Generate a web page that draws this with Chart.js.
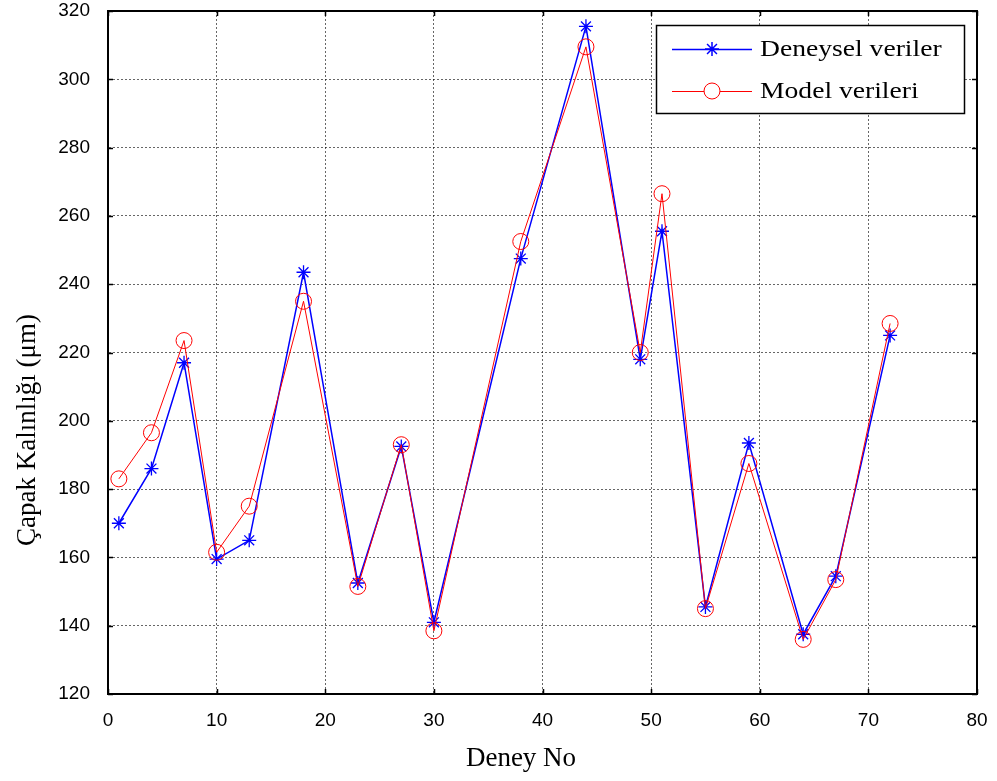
<!DOCTYPE html>
<html>
<head>
<meta charset="utf-8">
<script src="https://cdn.jsdelivr.net/npm/chart.js@4/dist/chart.umd.min.js"></script>
<style>
  html, body { margin: 0; padding: 0; background: #ffffff; }
  #wrap { width: 997px; height: 781px; }
</style>
</head>
<body>
<div id="wrap"><canvas id="c" width="997" height="781"></canvas></div>
<script>
// ---- data ----
const deneyNo = [1, 4, 7, 10, 13, 18, 23, 27, 30, 38, 44, 49, 51, 55, 59, 64, 67, 72];
const deneyselVeriler = [170, 186, 217, 159.5, 165, 243.5, 152.5, 192.5, 141, 247.5, 315.5, 218, 255.5, 145.5, 193.5, 137.5, 154.5, 225];
const modelVerileri   = [183, 196.5, 223.5, 161.5, 175, 235, 151.5, 193, 138.5, 252.5, 309.5, 220, 266.5, 145, 187.5, 136, 153.5, 228.5];
const seriesNames = ["Deneysel veriler", "Model verileri"];
const xTitle = "Deney No";
const yTitle = "Çapak Kalınlığı (μm)";
const xTickValues = [0, 10, 20, 30, 40, 50, 60, 70, 80];
const yTickValues = [120, 140, 160, 180, 200, 220, 240, 260, 280, 300, 320];

const toPoints = (ys) => deneyNo.map((x, i) => ({ x: x, y: ys[i] }));

// plugin: box, inward ticks, axis titles, legend
const matlabDecor = {
  id: 'matlabDecor',
  afterDraw(chart) {
    const ctx = chart.ctx;
    const a = chart.chartArea;
    const xs = chart.scales.x, ys = chart.scales.y;
    ctx.save();
    // inward ticks
    ctx.strokeStyle = '#000';
    ctx.lineWidth = 1.5;
    ctx.beginPath();
    xTickValues.forEach(v => {
      const px = Math.round(xs.getPixelForValue(v)) + 0.5;
      ctx.moveTo(px, a.bottom); ctx.lineTo(px, a.bottom - 5);
      ctx.moveTo(px, a.top); ctx.lineTo(px, a.top + 5);
    });
    yTickValues.forEach(v => {
      const py = Math.round(ys.getPixelForValue(v)) + 0.5;
      ctx.moveTo(a.left, py); ctx.lineTo(a.left + 5, py);
      ctx.moveTo(a.right, py); ctx.lineTo(a.right - 5, py);
    });
    ctx.stroke();
    // box
    ctx.lineWidth = 2;
    ctx.strokeRect(a.left, a.top, a.right - a.left, a.bottom - a.top);

    // axis titles
    ctx.fillStyle = '#000';
    ctx.font = '27px "Liberation Serif", "Times New Roman", serif';
    ctx.textAlign = 'center';
    ctx.textBaseline = 'middle';
    ctx.fillText(xTitle, 521, 759);
    ctx.save();
    ctx.translate(28, 430);
    ctx.rotate(-Math.PI / 2);
    ctx.fillText(yTitle, 0, 0);
    ctx.restore();

    // legend
    const bx = 656, by = 25, bw = 308, bh = 88;
    ctx.fillStyle = '#fff';
    ctx.fillRect(bx, by, bw, bh);
    ctx.strokeStyle = '#000';
    ctx.lineWidth = 1.5;
    ctx.strokeRect(bx + 0.5, by + 0.5, bw, bh);
    const rows = [49, 91];
    chart.data.datasets.forEach((ds, i) => {
      const y = rows[i];
      ctx.strokeStyle = ds.borderColor;
      ctx.lineWidth = ds.borderWidth;
      ctx.beginPath();
      ctx.moveTo(672, y + 0.5); ctx.lineTo(752, y + 0.5);
      ctx.stroke();
      Chart.helpers.drawPoint(ctx, {
        pointStyle: ds.pointStyle,
        radius: ds.pointRadius,
        borderWidth: ds.pointBorderWidth,
        rotation: 0
      }, 712, y);
      ctx.save();
      ctx.translate(760, y);
      ctx.scale(1.15, 1);
      ctx.fillStyle = '#000';
      ctx.font = '24px "Liberation Serif", "Times New Roman", serif';
      ctx.textAlign = 'left';
      ctx.textBaseline = 'middle';
      ctx.fillText(ds.label, 0, 1);
      ctx.restore();
    });
    ctx.restore();
  }
};

const gridStyle = { color: 'rgba(0,0,0,0.6)', lineWidth: 1, drawTicks: false };

new Chart(document.getElementById('c'), {
  type: 'line',
  data: {
    datasets: [
      {
        label: seriesNames[0],
        data: toPoints(deneyselVeriler),
        borderColor: '#0000ff',
        backgroundColor: 'rgba(0,0,0,0)',
        borderWidth: 1.5,
        pointStyle: 'star',
        pointRadius: 7,
        pointBorderWidth: 1.3,
        pointBorderColor: '#0000ff',
        pointBackgroundColor: 'rgba(0,0,0,0)',
        tension: 0,
        order: 2
      },
      {
        label: seriesNames[1],
        data: toPoints(modelVerileri),
        borderColor: '#ff0000',
        backgroundColor: 'rgba(0,0,0,0)',
        borderWidth: 1,
        pointStyle: 'circle',
        pointRadius: 8,
        pointBorderWidth: 1,
        pointBorderColor: '#ff0000',
        pointBackgroundColor: 'rgba(0,0,0,0)',
        tension: 0,
        order: 1
      }
    ]
  },
  options: {
    responsive: false,
    animation: false,
    devicePixelRatio: 1,
    layout: { padding: { left: 0, top: 11, right: 20, bottom: 0 } },
    plugins: { legend: { display: false }, tooltip: { enabled: false } },
    scales: {
      x: {
        type: 'linear',
        min: 0, max: 80,
        afterBuildTicks: (s) => { s.ticks = xTickValues.map(v => ({ value: v })); },
        afterFit: (s) => { s.height = 87; s.paddingLeft = 0; s.paddingRight = 0; },
        ticks: { color: '#000', font: { family: '"Liberation Sans", Arial, sans-serif', size: 19 }, padding: 15, maxRotation: 0 },
        grid: gridStyle,
        border: { display: true, color: '#000', width: 2, dash: [2, 2] }
      },
      y: {
        type: 'linear',
        min: 120, max: 320,
        afterBuildTicks: (s) => { s.ticks = yTickValues.map(v => ({ value: v })); },
        afterFit: (s) => { s.width = 108; s.paddingTop = 0; s.paddingBottom = 0; },
        ticks: { color: '#000', font: { family: '"Liberation Sans", Arial, sans-serif', size: 19 }, padding: 18 },
        grid: gridStyle,
        border: { display: true, color: '#000', width: 2, dash: [2, 2] }
      }
    }
  },
  plugins: [matlabDecor]
});
</script>
</body>
</html>
